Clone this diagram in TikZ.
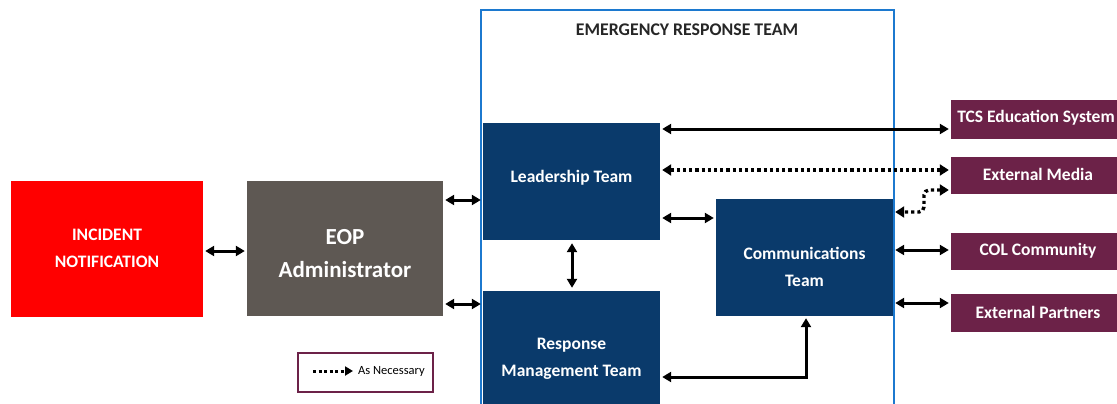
\documentclass[tikz,border=0pt]{standalone}
\usepackage{fontspec}
\setmainfont{Carlito}
\usetikzlibrary{arrows.meta,calc}
\definecolor{navy}{HTML}{0A3A6B}
\definecolor{maroon}{HTML}{6C2248}
\definecolor{eopgray}{HTML}{5E5853}
\definecolor{ertblue}{HTML}{1C79CF}
\definecolor{inred}{HTML}{FF0000}
\begin{document}
\begin{tikzpicture}[x=1pt,y=-1pt,
  box/.style={rectangle,inner sep=0pt,draw=none},
  lbl/.style={text=white,align=center,inner sep=0pt,font=\fontsize{17.5}{27}\selectfont\bfseries},
  biarrow/.style={line width=3pt,{Triangle[length=9pt,width=10pt]}-{Triangle[length=9pt,width=10pt]},shorten <=2pt,shorten >=2pt},
  dotarrow/.style={line width=3.4pt,dash pattern=on 3.2pt off 3pt,{Triangle[length=9pt,width=11pt]}-{Triangle[length=9pt,width=11pt]},shorten <=2pt,shorten >=2pt}
]
\useasboundingbox (0,0) rectangle (1117,404);
\clip (0,0) rectangle (1117,404);

% boxes
\node[box,fill=inred,minimum width=192pt,minimum height=136pt] (inc) at (107,249) {};
\node[box,fill=eopgray,minimum width=196pt,minimum height=135pt] (eop) at (345,248.5) {};
\node[box,fill=navy,minimum width=177pt,minimum height=117pt] (lt) at (571.5,181.5) {};
\node[box,fill=navy,minimum width=177pt,minimum height=117pt] (comm) at (804.5,257.5) {};
\node[box,fill=navy,minimum width=177pt,minimum height=129pt] (rmt) at (571.5,355.5) {};
\node[box,fill=maroon,minimum width=180pt,minimum height=39pt] (tcs) at (1041,119.5) {};
\node[box,fill=maroon,minimum width=180pt,minimum height=37pt] (em) at (1041,175.5) {};
\node[box,fill=maroon,minimum width=180pt,minimum height=37pt] (col) at (1041,251.5) {};
\node[box,fill=maroon,minimum width=180pt,minimum height=38pt] (ep) at (1041,313) {};

% emergency response team frame
\node[box,draw=ertblue,line width=2.8pt,minimum width=413pt,minimum height=420pt] (ert) at (687.5,220) {};
\node[inner sep=0pt,text=black!85,font=\fontsize{17.8}{20}\selectfont\bfseries] (ertt) at (687,30) {EMERGENCY RESPONSE TEAM};

% texts
\node[lbl] (inct) at (107,248.5) {INCIDENT\\NOTIFICATION};
\node[lbl,font=\fontsize{23}{33}\selectfont\bfseries] (eopt) at (345,253.5) {EOP\\Administrator};
\node[lbl] (ltt) at (571.5,178) {Leadership Team};
\node[lbl] (commt) at (804.5,266.5) {Communications\\Team};
\node[lbl] (rmtt) at (571.5,358.5) {Response\\Management Team};
\node[lbl] (tcst) at (1036,118) {TCS Education System};
\node[lbl] (emt) at (1038,174.5) {External Media};
\node[lbl] (colt) at (1038,250.5) {COL Community};
\node[lbl] (ept) at (1038,312) {External Partners};

% connectors
\draw[biarrow] (inc.east |- 0,251) -- (eop.west |- 0,251);
\draw[biarrow] (eop.east |- 0,200) -- (lt.west |- 0,200);
\draw[biarrow] (eop.east |- 0,304) -- (rmt.west |- 0,304);
\draw[biarrow,shorten <=3pt,shorten >=3pt] (572,0 |- lt.south) -- (572,0 |- rmt.north);
\draw[biarrow] (lt.east |- 0,218) -- (comm.west |- 0,218);
\draw[biarrow] (lt.east |- 0,129) -- (tcs.west |- 0,129);
\draw[dotarrow] (lt.east |- 0,170) -- (em.west |- 0,170);
\draw[dotarrow,rounded corners=5pt] (em.west |- 0,190) -- (924,190) -- (924,212) -- (comm.east |- 0,212);
\draw[biarrow] (comm.east |- 0,250) -- (col.west |- 0,250);
\draw[biarrow] (comm.east |- 0,303) -- (ep.west |- 0,303);
\draw[biarrow] (rmt.east |- 0,377) -| (806,0 |- comm.south);

% legend
\node[box,draw=maroon,line width=2.4pt,minimum width=135pt,minimum height=39pt] (leg) at (365.5,372.5) {};
\coordinate (lega) at (313,371);
\coordinate (legb) at (353,371);
\draw[line width=3pt,dash pattern=on 3pt off 2.5pt,-{Triangle[length=8pt,width=9pt]}] (lega) -- (legb);
\node[inner sep=0pt,anchor=west,font=\fontsize{12.5}{14}\selectfont] (legt) at (358,371) {As Necessary};
\end{tikzpicture}
\end{document}
